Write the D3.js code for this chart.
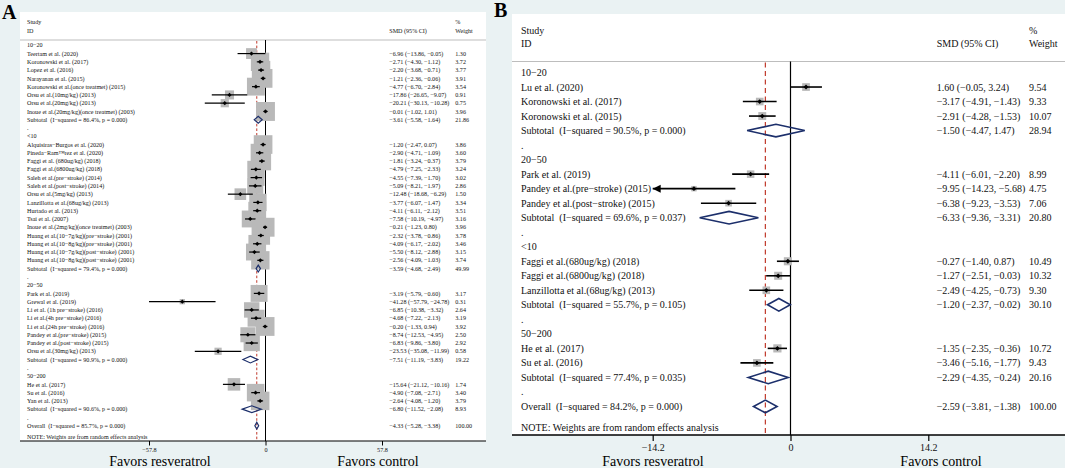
<!DOCTYPE html>
<html><head><meta charset="utf-8">
<script src="https://cdn.jsdelivr.net/npm/d3@7"></script>
<style>
html,body{margin:0;padding:0;background:#eaf2f3;}
svg{display:block;font-family:"Liberation Serif","Times New Roman",serif;}
text{white-space:pre;}
</style></head><body>
<svg id="chart" width="1065" height="468"></svg>
<script>
// ---------------- Panel A data ----------------
const groupsA = ["10−20", "<10", "20−50", "50−200"];
const studyGroupA = [0,0,0,0,0,0,0,0, 1,1,1,1,1,1,1,1,1,1,1,1,1,1,1, 2,2,2,2,2,2,2,2, 3,3,3];
const studyLabelA = [
  "Teertam et al. (2020)", "Koronowski et al. (2017)", "Lopez et al. (2016)", "Narayanan et al. (2015)",
  "Koronowski et al.(once treatmet) (2015)", "Orsu et al.(10mg/kg) (2013)", "Orsu et al.(20mg/kg) (2013)",
  "Inoue et al.(20mg/kg)(once treatmet) (2003)",
  "Alquisiras−Burgos et al. (2020)", "Pineda−Ram™rez et al. (2020)", "Faggi et al. (680ug/kg) (2018)",
  "Faggi et al.(6800ug/kg) (2018)", "Saleh et al.(pre−stroke) (2014)", "Saleh et al.(post−stroke) (2014)",
  "Orsu et al.(5mg/kg) (2013)", "Lanzillotta et al.(68ug/kg) (2013)", "Hurtado et al. (2013)", "Tsai et al. (2007)",
  "Inoue et al.(2mg/kg)(once treatmet) (2003)", "Huang et al.(10−7g/kg)(pre−stroke) (2001)",
  "Huang et al.(10−8g/kg)(pre−stroke) (2001)", "Huang et al.(10−7g/kg)(post−stroke) (2001)",
  "Huang et al.(10−8g/kg)(post−stroke) (2001)",
  "Park et al. (2019)", "Grewal et al. (2019)", "Li et al. (1h pre−stroke) (2016)", "Li et al.(4h pre−stroke) (2016)",
  "Li et al.(24h pre−stroke) (2016)", "Pandey et al.(pre−stroke) (2015)", "Pandey et al.(post−stroke) (2015)",
  "Orsu et al.(30mg/kg) (2013)",
  "He et al. (2017)", "Su et al. (2016)", "Yan et al. (2013)"
];
const studyEstA = [-6.96,-2.71,-2.20,-1.21,-4.77,-17.86,-20.21,-0.01, -1.20,-2.90,-1.81,-4.79,-4.55,-5.09,-12.48,-3.77,-4.11,-7.58,-0.21,-2.32,-4.09,-5.50,-2.56, -3.19,-41.28,-6.85,-4.68,-0.20,-8.74,-6.83,-23.53, -15.64,-4.90,-2.64];
const studyLowA = [-13.86,-4.30,-3.68,-2.36,-6.70,-26.65,-30.13,-1.02, -2.47,-4.71,-3.24,-7.25,-7.39,-8.21,-18.68,-6.07,-6.11,-10.19,-1.23,-3.78,-6.17,-8.12,-4.09, -5.79,-57.79,-10.38,-7.22,-1.33,-12.53,-9.86,-35.08, -21.12,-7.08,-4.08];
const studyHighA = [-0.05,-1.12,-0.71,-0.06,-2.84,-9.07,-10.28,1.01, 0.07,-1.09,-0.37,-2.33,-1.70,-1.97,-6.29,-1.47,-2.12,-4.97,0.80,-0.86,-2.02,-2.88,-1.03, -0.60,-24.78,-3.32,-2.13,0.94,-4.95,-3.80,-11.99, -10.16,-2.71,-1.20];
const studyWeightA = [1.30,3.72,3.77,3.91,3.54,0.91,0.75,3.96, 3.86,3.60,3.79,3.24,3.02,2.86,1.50,3.34,3.51,3.16,3.96,3.78,3.46,3.15,3.74, 3.17,0.31,2.64,3.19,3.92,2.50,2.92,0.58, 1.74,3.40,3.79];
const subHetA = ["I−squared = 86.4%, p = 0.000", "I−squared = 79.4%, p = 0.000", "I−squared = 90.9%, p = 0.000", "I−squared = 90.6%, p = 0.000"];
const subEstA = [-3.61, -3.59, -7.51, -6.80];
const subLowA = [-5.58, -4.68, -11.19, -11.52];
const subHighA = [-1.64, -2.49, -3.83, -2.08];
const subWeightA = [21.86, 49.99, 19.22, 8.93];
const overallHetA = "I−squared = 85.7%, p = 0.000";
const overallA = [-4.33, -5.28, -3.38, 100.00]; // est, low, high, weight
const ticksA = [-57.8, 0, 57.8];
const tickLabelsA = ["−57.8", "0", "57.8"];

// ---------------- Panel B data ----------------
const groupsB = ["10−20", "20−50", "<10", "50−200"];
const studyGroupB = [0,0,0, 1,1,1, 2,2,2, 3,3];
const studyLabelB = [
  "Lu et al. (2020)", "Koronowski et al. (2017)", "Koronowski et al. (2015)",
  "Park et al. (2019)", "Pandey et al.(pre−stroke) (2015)", "Pandey et al.(post−stroke) (2015)",
  "Faggi et al.(680ug/kg) (2018)", "Faggi et al.(6800ug/kg) (2018)", "Lanzillotta et al.(68ug/kg) (2013)",
  "He et al. (2017)", "Su et al. (2016)"
];
const studyEstB = [1.60,-3.17,-2.91, -4.11,-9.95,-6.38, -0.27,-1.27,-2.49, -1.35,-3.46];
const studyLowB = [-0.05,-4.91,-4.28, -6.01,-14.23,-9.23, -1.40,-2.51,-4.25, -2.35,-5.16];
const studyHighB = [3.24,-1.43,-1.53, -2.20,-5.68,-3.53, 0.87,-0.03,-0.73, -0.36,-1.77];
const studyWeightB = [9.54,9.33,10.07, 8.99,4.75,7.06, 10.49,10.32,9.30, 10.72,9.43];
const subHetB = ["I−squared = 90.5%, p = 0.000", "I−squared = 69.6%, p = 0.037", "I−squared = 55.7%, p = 0.105", "I−squared = 77.4%, p = 0.035"];
const subEstB = [-1.50, -6.33, -1.20, -2.29];
const subLowB = [-4.47, -9.36, -2.37, -4.35];
const subHighB = [1.47, -3.31, -0.02, -0.24];
const subWeightB = [28.94, 20.80, 30.10, 20.16];
const overallHetB = "I−squared = 84.2%, p = 0.000";
const overallB = [-2.59, -3.81, -1.38, 100.00];
const ticksB = [-14.2, 0, 14.2];
const tickLabelsB = ["−14.2", "0", "14.2"];

const noteText = "NOTE: Weights are from random effects analysis";
const favorsLeftText = "Favors resveratrol";
const favorsRightText = "Favors control";

// ---------------- layout ----------------
const layoutA = { x0:20, x1:486, y0:12, axisY:441, headerLineY:40, studyY:23.8, idY:33, row0:45.3, step:8.27,
  xRange:[149,382], font:6.1, tickFont:6.2, tickSize:4.5, tickBase:452, boxK:9.5, diamondH:3.4, pointR:2.1,
  ciWidth:1.2, labelX:27, estX:389.3, wtX:455.3, favorsY:466, favorsL:160, favorsR:378, dash:"2.6,2",
  panel:"A", panelX:2, panelY:18.5, noteOffset:1.35, lineW:1 };
const layoutB = { x0:512, x1:1065, y0:14, axisY:435, headerLineY:61.5, studyY:33.5, idY:46.7, row0:72.5, step:14.52,
  xRange:[652.7,928.3], font:10, tickFont:10, tickSize:6, tickBase:451.2, boxK:2.5, diamondH:6.3, pointR:2.4,
  ciWidth:1.6, labelX:521, estX:936.7, wtX:1029, favorsY:466, favorsL:653, favorsR:941, dash:"5,3.5",
  panel:"B", panelX:494, panelY:17, noteOffset:1.42, lineW:1.2 };
const favorsFont = 14;

const svg = d3.select("#chart");
const fmt = d3.format(".2f");
const ciText = (e,l,h) => `${fmt(e)} (${fmt(l)}, ${fmt(h)})`;

function buildRows(groups, sg, lab, est, lo, hi, w, shet, sest, slo, shi, sw, ohet, ov) {
  const rows = [];
  groups.forEach((g, gi) => {
    rows.push({type:"group", label:g});
    sg.forEach((s, i) => { if (s === gi) rows.push({type:"study", label:lab[i], est:est[i], lo:lo[i], hi:hi[i], w:w[i]}); });
    rows.push({type:"sub", label:`Subtotal  (${shet[gi]})`, est:sest[gi], lo:slo[gi], hi:shi[gi], w:sw[gi]});
    rows.push({type:"blank", label:"."});
  });
  rows.push({type:"overall", label:`Overall  (${ohet})`, est:ov[0], lo:ov[1], hi:ov[2], w:ov[3]});
  return rows;
}

function drawPanel(L, rows, ticks, tickLabels) {
  const g = svg.append("g");
  const x = d3.scaleLinear().domain([ticks[0], ticks[ticks.length-1]]).range(L.xRange);
  const y = d3.scaleLinear().domain([0, 1]).range([L.row0, L.row0 + L.step]);
  const nOverall = rows.length - 1;
  const overallEst = rows[nOverall].est;

  // plot region
  g.append("rect").attr("x", L.x0).attr("y", L.y0).attr("width", L.x1 - L.x0).attr("height", L.axisY - L.y0).attr("fill", "#fff");
  // panel letter
  svg.append("text").attr("x", L.panelX).attr("y", L.panelY).attr("font-size", 20).attr("font-weight", "bold").attr("fill", "#000").text(L.panel);
  // header
  g.append("line").attr("x1", L.x0).attr("x2", L.x1).attr("y1", L.headerLineY).attr("y2", L.headerLineY).attr("stroke", "#bdbdbd").attr("stroke-width", 1);
  const ht = (tx, xx, yy) => g.append("text").attr("x", xx).attr("y", yy).attr("font-size", L.font).attr("fill", "#111").text(tx);
  ht("Study", L.labelX, L.studyY); ht("ID", L.labelX, L.idY);
  ht("SMD (95% CI)", L.estX, L.idY);
  ht("%", L.wtX, L.studyY); ht("Weight", L.wtX, L.idY);

  // reference lines
  g.append("line").attr("x1", x(0)).attr("x2", x(0)).attr("y1", L.headerLineY).attr("y2", L.axisY).attr("stroke", "#000").attr("stroke-width", L.lineW);
  g.append("line").attr("x1", x(overallEst)).attr("x2", x(overallEst)).attr("y1", L.headerLineY + 1).attr("y2", L.axisY)
    .attr("stroke", "#c0392b").attr("stroke-width", L.lineW).attr("stroke-dasharray", L.dash);

  const indexed = rows.map((r, i) => Object.assign({i}, r));
  const studies = indexed.filter(r => r.type === "study");
  const pooled = indexed.filter(r => r.type === "sub" || r.type === "overall");

  // boxes
  g.selectAll(".box").data(studies).join("rect")
    .attr("x", d => x(d.est) - L.boxK * Math.sqrt(d.w) / 2)
    .attr("y", d => y(d.i) - L.boxK * Math.sqrt(d.w) / 2)
    .attr("width", d => L.boxK * Math.sqrt(d.w))
    .attr("height", d => L.boxK * Math.sqrt(d.w))
    .attr("fill", "#b9b9b9");

  // CI lines
  const dmin = x.domain()[0], dmax = x.domain()[1];
  g.selectAll(".ci").data(studies).join("line")
    .attr("x1", d => x(Math.max(d.lo, dmin))).attr("x2", d => x(Math.min(d.hi, dmax)))
    .attr("y1", d => y(d.i)).attr("y2", d => y(d.i))
    .attr("stroke", "#000").attr("stroke-width", L.ciWidth);
  // arrows for clipped intervals
  g.selectAll(".arrow").data(studies.filter(d => d.lo < dmin)).join("path")
    .attr("d", d => { const ax = x(dmin), ay = y(d.i), s = L.font * 0.4; return `M${ax},${ay}L${ax + s*2},${ay - s}L${ax + s*2},${ay + s}Z`; })
    .attr("fill", "#000");
  // points
  g.selectAll(".pt").data(studies).join("path")
    .attr("d", d => { const px = x(d.est), py = y(d.i), r = L.pointR; return `M${px - r},${py}L${px},${py - r}L${px + r},${py}L${px},${py + r}Z`; })
    .attr("fill", "#000");
  // pooled diamonds
  g.selectAll(".dia").data(pooled).join("path")
    .attr("d", d => { const yy = y(d.i), h = L.diamondH; return `M${x(d.lo)},${yy}L${x(d.est)},${yy - h}L${x(d.hi)},${yy}L${x(d.est)},${yy + h}Z`; })
    .attr("fill", "none").attr("stroke", "#1c2f6b").attr("stroke-width", L.ciWidth);

  // row labels
  g.selectAll(".lab").data(rows).join("text")
    .attr("x", L.labelX).attr("y", (d, i) => y(i)).attr("dy", "0.35em")
    .attr("font-size", L.font).attr("fill", "#111").text(d => d.label);
  const numRows = indexed.filter(r => r.type === "study" || r.type === "sub" || r.type === "overall");
  g.selectAll(".est").data(numRows).join("text")
    .attr("x", L.estX).attr("y", d => y(d.i)).attr("dy", "0.35em")
    .attr("font-size", L.font).attr("fill", "#111").text(d => ciText(d.est, d.lo, d.hi));
  g.selectAll(".wt").data(numRows).join("text")
    .attr("x", L.wtX).attr("y", d => y(d.i)).attr("dy", "0.35em")
    .attr("font-size", L.font).attr("fill", "#111").text(d => fmt(d.w));
  g.append("text").attr("x", L.labelX).attr("y", y(nOverall + L.noteOffset)).attr("dy", "0.35em")
    .attr("font-size", L.font).attr("fill", "#111").text(noteText);

  // axis
  const axis = d3.axisBottom(x).tickValues(ticks).tickFormat((d, i) => tickLabels[i]).tickSize(L.tickSize);
  const ag = g.append("g").attr("transform", `translate(0,${L.axisY})`).call(axis);
  ag.select(".domain").remove();
  ag.selectAll(".tick line").attr("stroke", "#000").attr("stroke-width", L.lineW);
  ag.selectAll(".tick text").attr("dy", null).attr("y", L.tickBase - L.axisY)
    .attr("font-size", L.tickFont).attr("font-family", "Liberation Serif, Times New Roman, serif").attr("fill", "#111");
  g.append("line").attr("x1", L.x0).attr("x2", L.x1).attr("y1", L.axisY).attr("y2", L.axisY).attr("stroke", "#000").attr("stroke-width", L.lineW + 0.2);

  // favours labels
  g.append("text").attr("x", L.favorsL).attr("y", L.favorsY).attr("text-anchor", "middle").attr("font-size", favorsFont).attr("fill", "#000").text(favorsLeftText);
  g.append("text").attr("x", L.favorsR).attr("y", L.favorsY).attr("text-anchor", "middle").attr("font-size", favorsFont).attr("fill", "#000").text(favorsRightText);
}

const rowsA = buildRows(groupsA, studyGroupA, studyLabelA, studyEstA, studyLowA, studyHighA, studyWeightA,
  subHetA, subEstA, subLowA, subHighA, subWeightA, overallHetA, overallA);
const rowsB = buildRows(groupsB, studyGroupB, studyLabelB, studyEstB, studyLowB, studyHighB, studyWeightB,
  subHetB, subEstB, subLowB, subHighB, subWeightB, overallHetB, overallB);

drawPanel(layoutA, rowsA, ticksA, tickLabelsA);
drawPanel(layoutB, rowsB, ticksB, tickLabelsB);
</script>
</body></html>
